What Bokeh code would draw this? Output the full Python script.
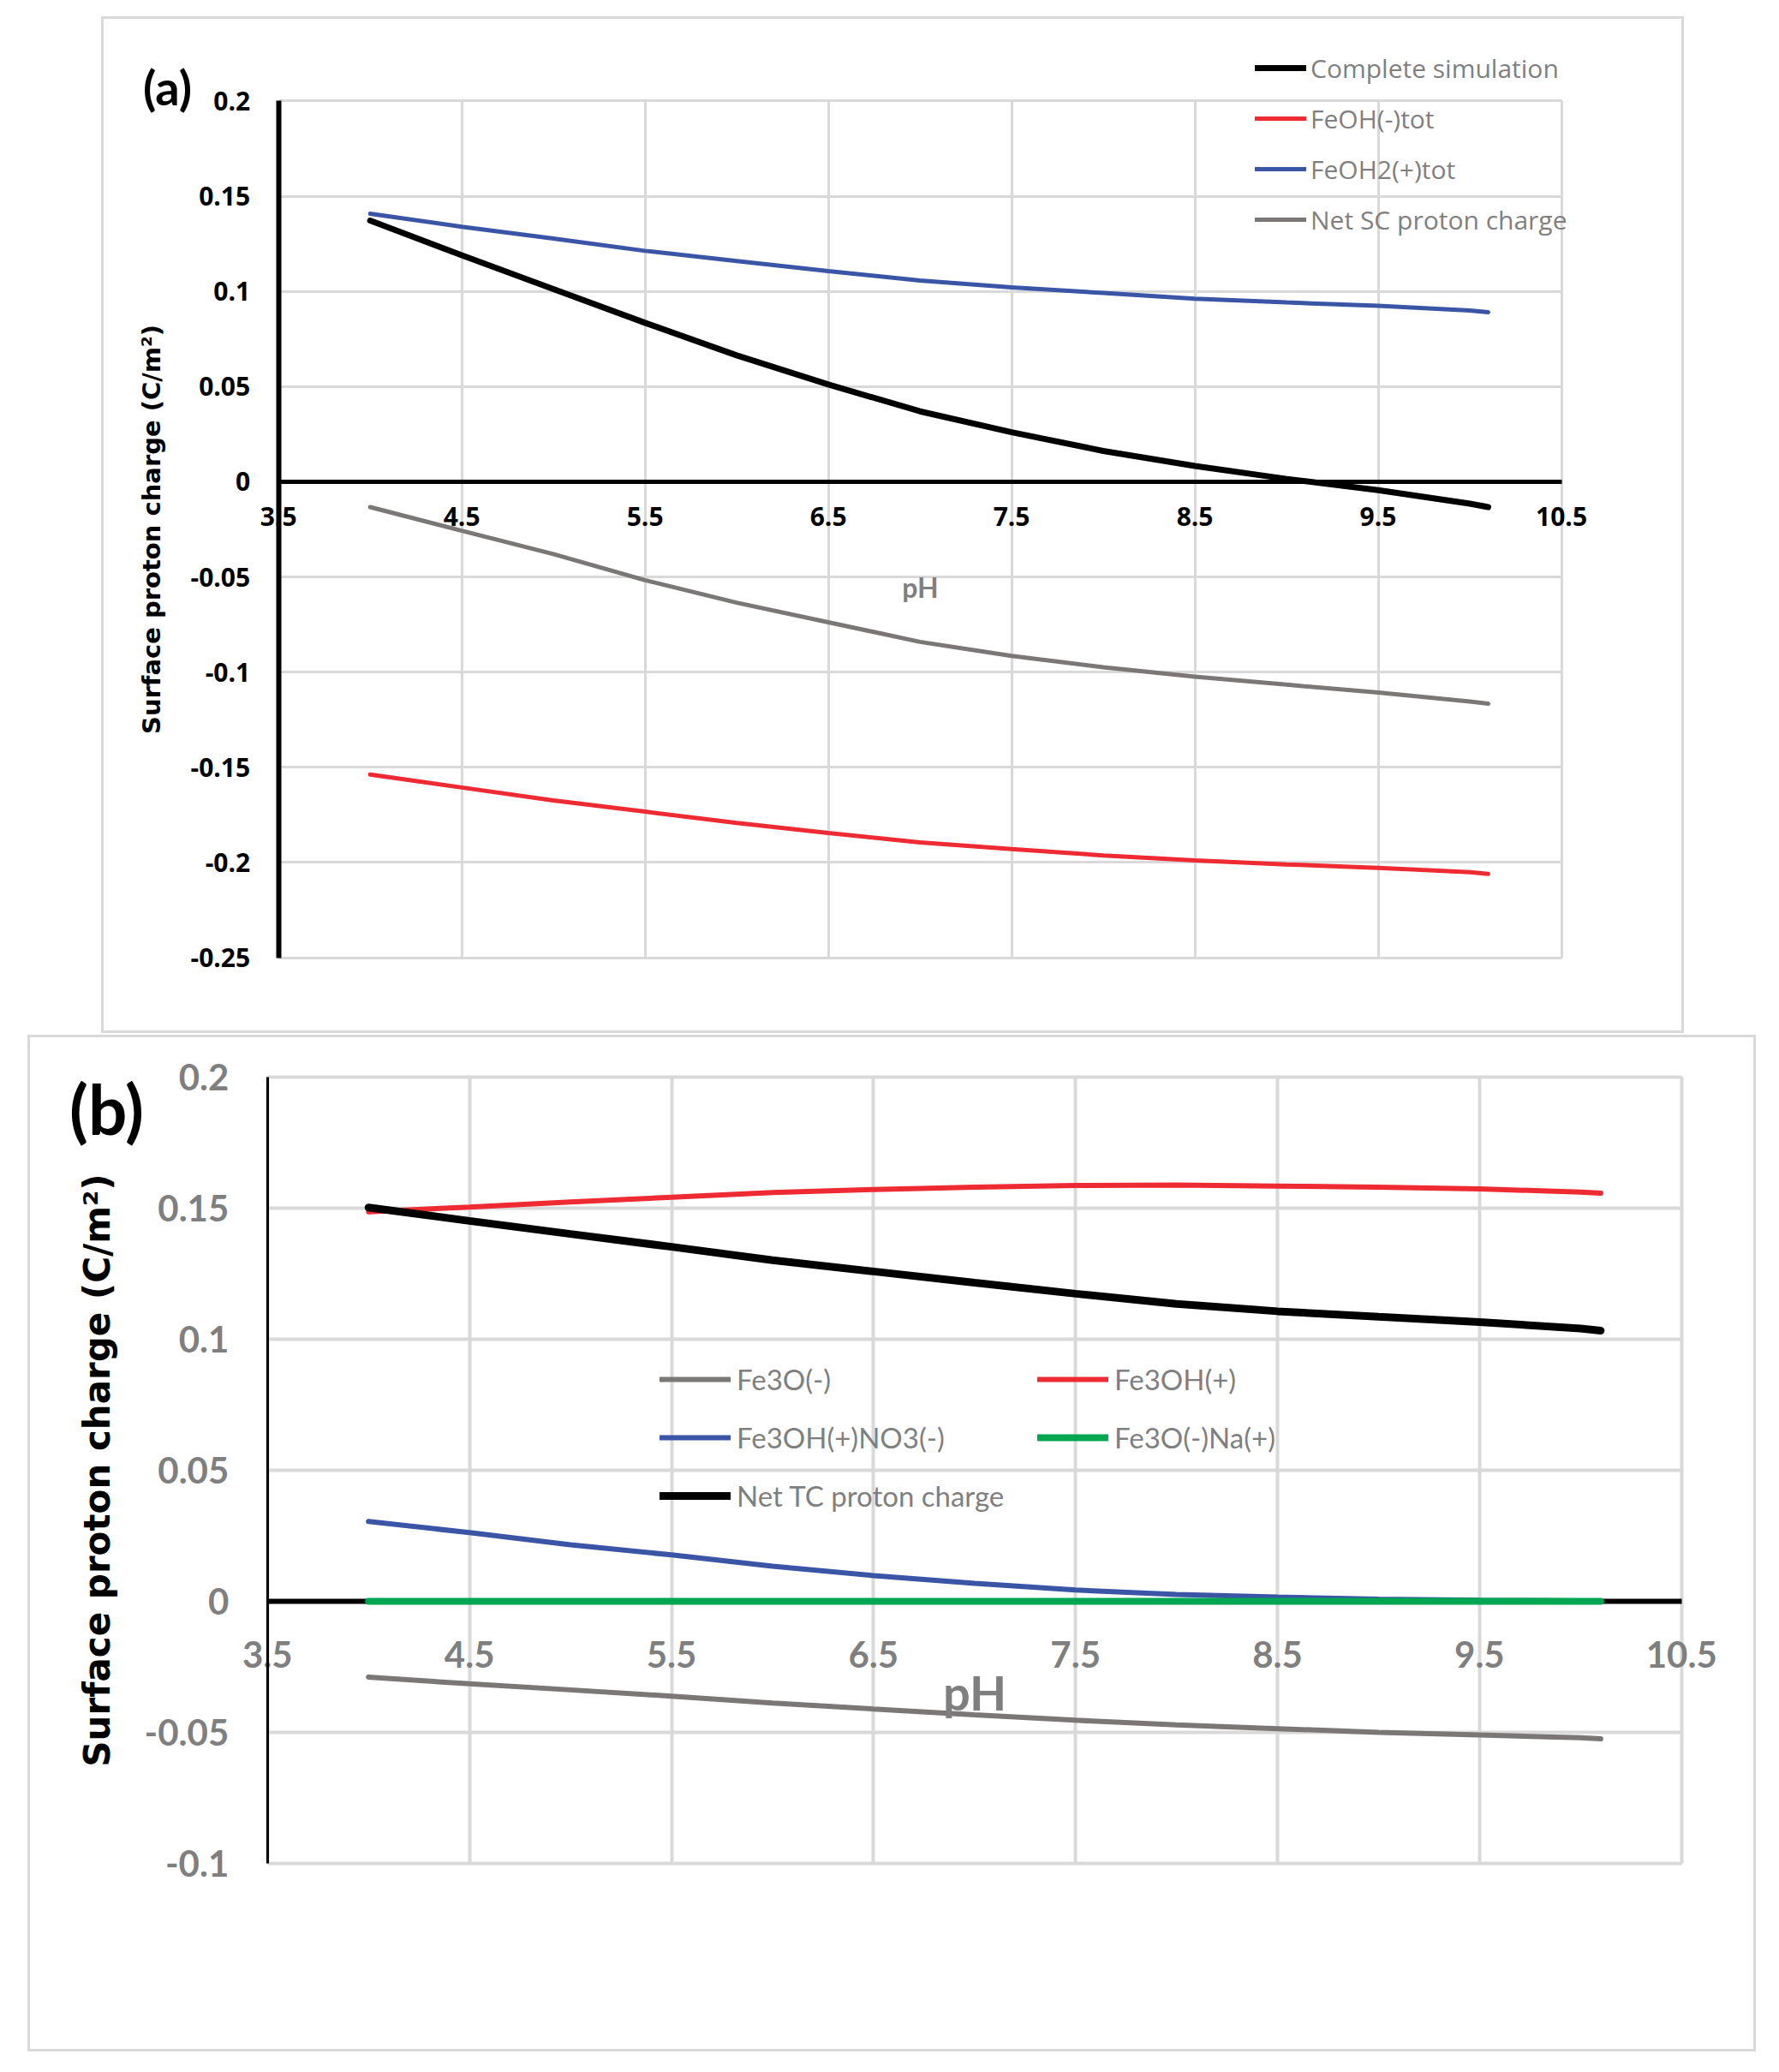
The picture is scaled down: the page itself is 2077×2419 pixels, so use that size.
from bokeh.plotting import figure
from bokeh.models import ColumnDataSource, Legend, LegendItem, Label, Grid, FixedTicker, Range1d
from bokeh.layouts import column
from bokeh.embed import file_html
from bokeh.resources import INLINE

# pH values of the simulation points
ph = [4.0, 4.5, 5.0, 5.5, 6.0, 6.5, 7.0, 7.5, 8.0, 8.5, 9.0, 9.5, 10.0, 10.1]

# panel (a) series
complete_sim = [0.1372, 0.1190, 0.1012, 0.0835, 0.0664, 0.0511, 0.0370, 0.0260,
                0.0162, 0.0083, 0.0015, -0.0044, -0.0115, -0.0133]
feoh_tot = [-0.1538, -0.1606, -0.1674, -0.1733, -0.1792, -0.1845, -0.1895, -0.1930,
            -0.1963, -0.1989, -0.2010, -0.2028, -0.2051, -0.2060]
feoh2_tot = [0.1408, 0.1340, 0.1278, 0.1213, 0.1160, 0.1107, 0.1057, 0.1021,
             0.0992, 0.0962, 0.0942, 0.0924, 0.0900, 0.0891]
net_sc = [-0.0133, -0.0257, -0.0380, -0.0517, -0.0635, -0.0738, -0.0841, -0.0915,
          -0.0974, -0.1024, -0.1066, -0.1107, -0.1154, -0.1166]

# panel (b) series
fe3o = [-0.0289, -0.0315, -0.0338, -0.0362, -0.0388, -0.0411, -0.0433, -0.0454,
        -0.0472, -0.0486, -0.0500, -0.0510, -0.0521, -0.0525]
fe3oh = [0.1487, 0.1505, 0.1524, 0.1542, 0.1560, 0.1572, 0.1581, 0.1587,
         0.1589, 0.1585, 0.1581, 0.1574, 0.1562, 0.1558]
fe3oh_no3 = [0.0305, 0.0262, 0.0216, 0.0177, 0.0134, 0.0098, 0.0069, 0.0043,
             0.0026, 0.0016, 0.0008, 0.0004, 0.0002, 0.0001]
fe3o_na = [0.0, 0.0, 0.0, 0.0, 0.0, 0.0, 0.0, 0.0, 0.0, 0.0, 0.0, 0.0, 0.0, 0.0]
net_tc = [0.1503, 0.1452, 0.1402, 0.1353, 0.1302, 0.1259, 0.1216, 0.1174,
          0.1135, 0.1107, 0.1086, 0.1066, 0.1041, 0.1033]

# ticks
x_ticks = [3.5, 4.5, 5.5, 6.5, 7.5, 8.5, 9.5, 10.5]
ya_ticks = [0.2, 0.15, 0.1, 0.05, 0, -0.05, -0.1, -0.15, -0.2, -0.25]
ya_tick_labels = ["0.2", "0.15", "0.1", "0.05", "0", "-0.05", "-0.1", "-0.15", "-0.2", "-0.25"]
yb_ticks = [0.2, 0.15, 0.1, 0.05, 0, -0.05, -0.1]
yb_tick_labels = ["0.2", "0.15", "0.1", "0.05", "0", "-0.05", "-0.1"]

names_a = ["Complete simulation", "FeOH(-)tot", "FeOH2(+)tot", "Net SC proton charge"]
names_b = ["Fe3O(-)", "Fe3OH(+)", "Fe3OH(+)NO3(-)", "Fe3O(-)Na(+)", "Net TC proton charge"]

BLACK = "#000000"
RED = "#EE2A32"
BLUE = "#3A55A5"
GRAY = "#7B7777"
GREEN = "#00A651"
GRID = "#d9d9d9"
TXT_GRAY = "#7f7f7f"
YLABEL = "Surface proton charge (C/m\u00b2)"


def span_range(v0, v1, p0, p1, size):
    # range whose value v0 sits at pixel p0 and v1 at pixel p1 of a canvas of given size
    k = (v1 - v0) / (p1 - p0)
    a, b = v0 - p0 * k, v0 + (size - p0) * k
    return Range1d(min(a, b), max(a, b))


def panel(w, h, y_ticks, y_labels, xpx, ypx, margin, grid_w, zero_w):
    cw, ch = w - 6, h - 6  # canvas inside the 3px panel border
    ylo, yhi = min(y_ticks), max(y_ticks)
    p = figure(width=w, height=h,
               x_range=span_range(x_ticks[0], x_ticks[-1], xpx[0], xpx[1], cw),
               y_range=span_range(yhi, ylo, ypx[0], ypx[1], ch),
               output_backend="svg", toolbar_location=None, min_border=0,
               background_fill_color="white", border_fill_color="white",
               outline_line_color=None,
               styles={"border": "3px solid " + GRID}, margin=margin)
    xa = p.xaxis[0]
    xa.fixed_location = 0
    xa.bounds = (x_ticks[0], x_ticks[-1])
    xa.ticker = x_ticks
    xa.axis_line_color = None
    xa.major_tick_line_color = None
    xa.minor_tick_line_color = None
    xa.major_tick_in = 0
    xa.major_tick_out = 0
    xa.minor_tick_out = 0
    xa.major_label_text_font_style = "bold"
    xa.axis_label = "pH"
    xa.axis_label_text_font = "Lato"
    xa.axis_label_text_font_style = "bold"
    xa.axis_label_text_color = TXT_GRAY

    ya = p.yaxis[0]
    ya.fixed_location = x_ticks[0]
    ya.bounds = (ylo, yhi)
    ya.ticker = y_ticks
    ya.major_label_overrides = dict(zip(y_ticks, y_labels))
    ya.axis_line_color = BLACK
    ya.major_tick_line_color = None
    ya.minor_tick_line_color = None
    ya.major_tick_in = 0
    ya.major_tick_out = 0
    ya.minor_tick_out = 0
    ya.major_label_text_font_style = "bold"
    ya.axis_label = YLABEL
    ya.axis_label_text_font = "DejaVu Sans"
    ya.axis_label_text_font_style = "bold"
    ya.axis_label_text_color = BLACK

    p.xgrid.cross_bounds = (ylo, yhi)
    p.ygrid.cross_bounds = (x_ticks[0], x_ticks[-1])
    p.grid.grid_line_color = GRID
    p.grid.grid_line_width = grid_w
    # horizontal zero line, drawn under the curves
    p.add_layout(Grid(dimension=1, ticker=FixedTicker(ticks=[0]),
                      cross_bounds=(x_ticks[0], x_ticks[-1]),
                      grid_line_color=BLACK, grid_line_width=zero_w))
    return p, xa, ya


# ---------------- panel (a)
src_a = ColumnDataSource(dict(ph=ph, c=complete_sim, m=feoh_tot, p=feoh2_tot, n=net_sc))
pa, xa_a, ya_a = panel(1848, 1187, ya_ticks, ya_tick_labels, (203, 1696), (95, 1090),
                       (19, 0, 0, 118), 3, 5)
ya_a.axis_line_width = 6
ya_a.major_label_text_font = "Open Sans"
ya_a.major_label_text_font_size = "30px"
ya_a.major_label_text_color = BLACK
ya_a.major_label_standoff = 33
ya_a.axis_label_text_font_size = "29px"
ya_a.axis_label_standoff = 26
xa_a.major_label_text_font = "Open Sans"
xa_a.major_label_text_font_size = "30px"
xa_a.major_label_text_color = BLACK
xa_a.major_label_standoff = 30
xa_a.axis_label_text_font_size = "32px"
xa_a.axis_label_standoff = 48

ra = []
for col, colr, lw in [("c", BLACK, 7), ("m", RED, 5), ("p", BLUE, 5), ("n", GRAY, 5)]:
    ra.append(pa.line("ph", col, source=src_a, line_color=colr, line_width=lw, line_cap="round"))

leg_a = Legend(items=[LegendItem(label=n, renderers=[r]) for n, r in zip(names_a, ra)],
               location=(1344, 932), orientation="vertical",
               glyph_width=60, glyph_height=42, label_height=42, spacing=17,
               padding=0, margin=0, label_standoff=5,
               label_text_font="Open Sans", label_text_font_size="30px",
               label_text_color=TXT_GRAY, border_line_color=None, background_fill_alpha=0)
pa.add_layout(leg_a)
pa.add_layout(Label(x=74, y=1108, x_units="screen", y_units="screen", text="(a)",
                    text_align="center", text_baseline="middle", text_font="Lato",
                    text_font_style="bold", text_font_size="56px", text_color=BLACK))

# ---------------- panel (b)
src_b = ColumnDataSource(dict(ph=ph, o=fe3o, h=fe3oh, no3=fe3oh_no3, na=fe3o_na, n=net_tc))
pb, xa_b, ya_b = panel(2018, 1187, yb_ticks, yb_tick_labels, (276, 1922), (46, 959),
                       (2, 0, 0, 32), 4, 6)
ya_b.axis_line_width = 3
ya_b.major_label_text_font = "Lato"
ya_b.major_label_text_font_size = "42px"
ya_b.major_label_text_color = TXT_GRAY
ya_b.major_label_standoff = 45
ya_b.axis_label_text_font_size = "42px"
ya_b.axis_label_standoff = 28
xa_b.major_label_text_font = "Lato"
xa_b.major_label_text_font_size = "42px"
xa_b.major_label_text_color = TXT_GRAY
xa_b.major_label_standoff = 47
xa_b.axis_label_text_font_size = "56px"
xa_b.axis_label_standoff = -9

rb = []
for col, colr, lw in [("o", GRAY, 6), ("h", RED, 6), ("no3", BLUE, 6), ("na", GREEN, 8), ("n", BLACK, 9)]:
    rb.append(pb.line("ph", col, source=src_b, line_color=colr, line_width=lw, line_cap="round"))

leg_b = Legend(items=[LegendItem(label=n, renderers=[r]) for n, r in zip(names_b, rb)],
               location=(735, 630), orientation="horizontal", ncols=2,
               glyph_width=83, glyph_height=44, label_height=44, label_width=327,
               spacing=24, padding=0, margin=0, label_standoff=7,
               label_text_font="Lato", label_text_font_size="33px",
               label_text_color=TXT_GRAY, border_line_color=None, background_fill_alpha=0)
pb.add_layout(leg_b)
pb.add_layout(Label(x=89, y=1105, x_units="screen", y_units="screen", text="(b)",
                    text_align="center", text_baseline="middle", text_font="Lato",
                    text_font_style="bold", text_font_size="80px", text_color=BLACK))

layout = column(pa, pb, spacing=0)
open("out.html", "w").write(file_html(layout, INLINE, title="Surface proton charge"))
